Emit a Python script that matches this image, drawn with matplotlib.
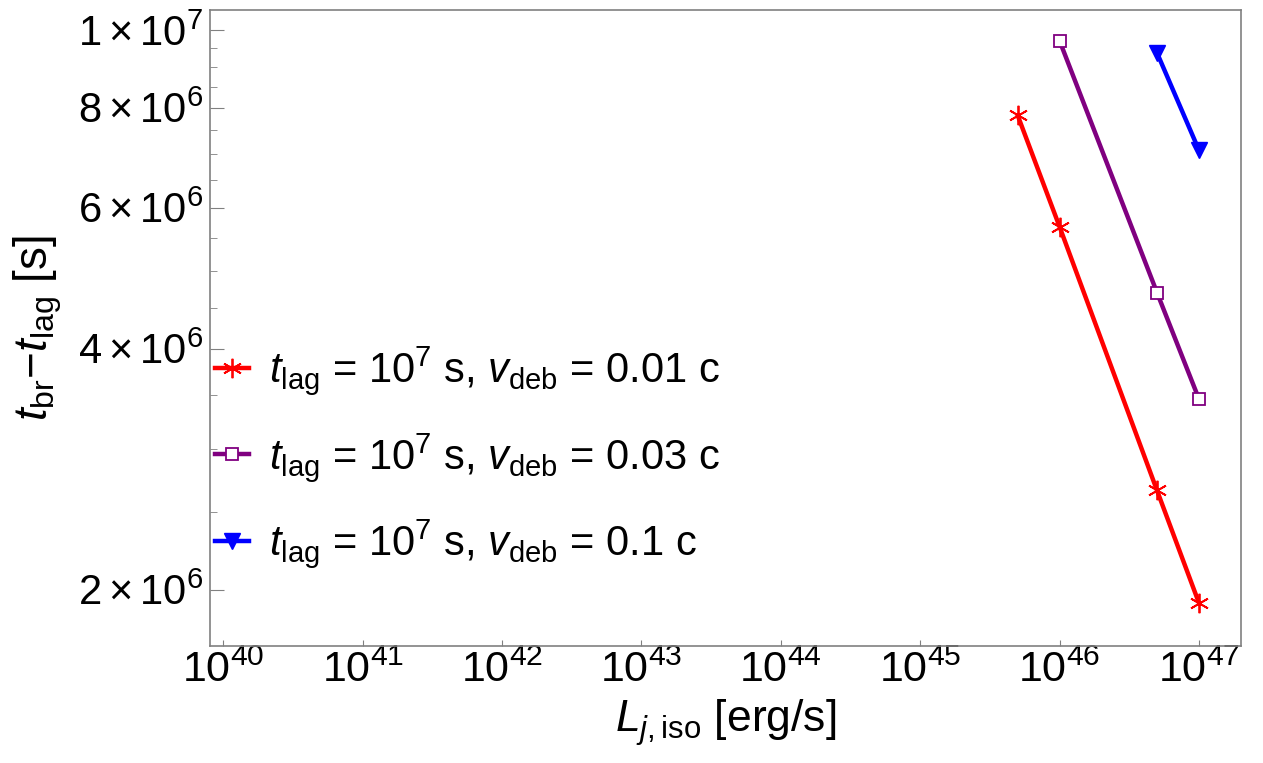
import numpy as np
import matplotlib.pyplot as plt
from matplotlib.ticker import FixedLocator, FixedFormatter, NullLocator

plt.rcParams['font.family'] = ['Liberation Sans', 'DejaVu Sans']
plt.rcParams['mathtext.fontset'] = 'custom'
plt.rcParams['mathtext.rm'] = 'Liberation Sans'
plt.rcParams['mathtext.it'] = 'Liberation Sans:italic'
plt.rcParams['mathtext.bf'] = 'Liberation Sans:bold'

# data
L_red = [5e45, 1e46, 5e46, 1e47]
t_red = [7.83e6, 5.68e6, 2.66e6, 1.924e6]
L_purple = [1e46, 5e46, 1e47]
t_purple = [9.70e6, 4.70e6, 3.46e6]
L_blue = [5e46, 1e47]
t_blue = [9.37e6, 7.08e6]

labels = [r'$t_{\rm lag}$ = 10$^{7}$ s, $v_{\rm deb}$ = 0.01 c',
          r'$t_{\rm lag}$ = 10$^{7}$ s, $v_{\rm deb}$ = 0.03 c',
          r'$t_{\rm lag}$ = 10$^{7}$ s, $v_{\rm deb}$ = 0.1 c']

xticks = [10.0**k for k in range(40, 48)]
xticklabels = [r'$10^{%d}$' % k for k in range(40, 48)]
yticks = [2e6, 4e6, 6e6, 8e6, 1e7]
yticklabels = [r'$2\times10^{6}$', r'$4\times10^{6}$', r'$6\times10^{6}$',
               r'$8\times10^{6}$', r'$1\times10^{7}$']
yminor = [2.5e6, 3e6, 3.5e6, 4.5e6, 5e6, 5.5e6, 6.5e6, 7e6, 7.5e6,
          8.5e6, 9e6, 9.5e6]

fig = plt.figure(figsize=(12.63, 7.63), dpi=100)
ax = fig.add_axes([0.1663, 0.1533, 0.8160, 0.8332])

ax.plot(L_red, t_red, color='red', lw=3.2, marker=(6, 2, 0), ms=14,
        mew=1.3, label=labels[0])
ax.plot(L_purple, t_purple, color='purple', lw=3.2, marker='s', ms=8,
        mfc='white', mew=1.3, label=labels[1])
ax.plot(L_blue, t_blue, color='blue', lw=3.2, marker='v', ms=12,
        label=labels[2])

ax.set_xscale('log')
ax.set_yscale('log')
ax.set_xlim(10**39.905, 10**47.299)
ax.set_ylim(1.70e6, 1.059e7)

ax.xaxis.set_major_locator(FixedLocator(xticks))
ax.xaxis.set_major_formatter(FixedFormatter(xticklabels))
ax.xaxis.set_minor_locator(NullLocator())
ax.yaxis.set_major_locator(FixedLocator(yticks))
ax.yaxis.set_major_formatter(FixedFormatter(yticklabels))
ax.yaxis.set_minor_locator(FixedLocator(yminor))
ax.yaxis.set_minor_formatter(FixedFormatter([''] * len(yminor)))

for s in ax.spines.values():
    s.set_color('#808080')
    s.set_linewidth(1.2)
ax.tick_params(axis='x', which='major', direction='in', length=4,
               color='#808080', labelsize=31, pad=3)
ax.tick_params(axis='y', which='major', direction='in', length=10,
               color='#808080', labelsize=30, pad=5)
ax.tick_params(axis='y', which='minor', direction='in', length=5,
               color='#808080')

ax.set_xlabel(r'$L_{j,\rm iso}$ [erg/s]', fontsize=32, labelpad=5)
ax.set_ylabel(r'$t_{\rm br}$$-$$t_{\rm lag}$ [s]', fontsize=33, labelpad=10)

ax.legend(loc='center left', bbox_to_anchor=(0.005, 0.297), frameon=False,
          fontsize=30, handlelength=0.8, handletextpad=0.5, labelspacing=0.8,
          borderpad=0, borderaxespad=0)

fig.savefig('out.png', dpi=100)
